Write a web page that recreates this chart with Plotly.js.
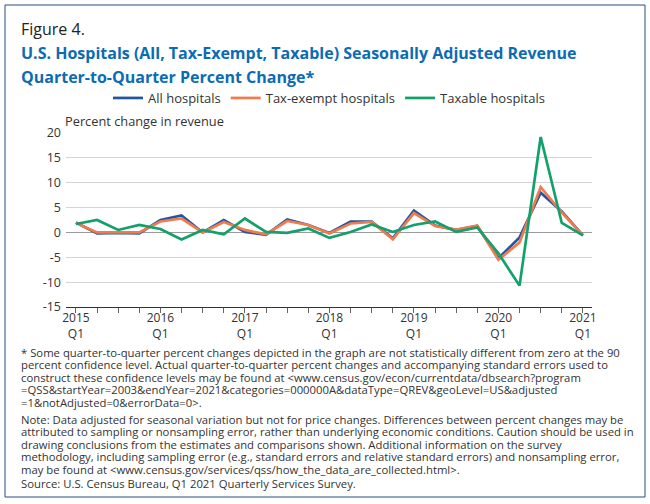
<!DOCTYPE html>
<html>
<head>
<meta charset="utf-8">
<script src="https://cdn.plot.ly/plotly-3.0.1.min.js"></script>
<style>
  html, body { margin: 0; padding: 0; background: #ffffff; }
  #chart { width: 650px; height: 504px; }
</style>
</head>
<body>
<div id="chart"></div>
<script>
// ---- Data ----
var quarters = [
  "2015 Q1","2015 Q2","2015 Q3","2015 Q4",
  "2016 Q1","2016 Q2","2016 Q3","2016 Q4",
  "2017 Q1","2017 Q2","2017 Q3","2017 Q4",
  "2018 Q1","2018 Q2","2018 Q3","2018 Q4",
  "2019 Q1","2019 Q2","2019 Q3","2019 Q4",
  "2020 Q1","2020 Q2","2020 Q3","2020 Q4",
  "2021 Q1"
];
var allHospitals = [2.0, -0.2, -0.1, -0.2, 2.5, 3.4, 0.0, 2.5, 0.1, -0.5, 2.6, 1.5, -0.1, 2.2, 2.2, -1.2, 4.4, 1.4, 0.5, 1.3, -5.2, -1.0, 8.0, 4.2, -0.6];
var taxExempt    = [1.9, 0.0, 0.0, 0.0, 2.2, 2.8, 0.0, 2.1, 0.5, -0.4, 2.3, 1.5, -0.2, 1.8, 2.1, -1.4, 3.9, 1.3, 0.5, 1.4, -5.5, -2.0, 9.1, 4.0, -0.6];
var taxable      = [1.7, 2.5, 0.5, 1.5, 0.7, -1.4, 0.5, -0.4, 2.8, 0.1, -0.1, 0.8, -1.1, 0.1, 1.6, 0.1, 1.5, 2.2, 0.1, 1.0, -4.2, -10.7, 19.2, 1.9, -0.6];
var seriesNames  = ["All hospitals", "Tax-exempt hospitals", "Taxable hospitals"];
var yTicks       = [-15, -10, -5, 0, 5, 10, 15, 20];

// x tick labels: "year<br>Q1" on first quarters, blank elsewhere
var xTickText = quarters.map(function (q) {
  var p = q.split(" ");
  return p[1] === "Q1" ? p[0] + "<br>" + p[1] : "";
});

var footnoteLines = [
  "* Some quarter-to-quarter percent changes depicted in the graph are not statistically different from zero at the 90",
  "percent confidence level. Actual quarter-to-quarter percent changes and accompanying standard errors used to",
  "construct these confidence levels may be found at &lt;www.census.gov/econ/currentdata/dbsearch?program",
  "=QSS&amp;startYear=2003&amp;endYear=2021&amp;categories=000000A&amp;dataType=QREV&amp;geoLevel=US&amp;adjusted",
  "=1&amp;notAdjusted=0&amp;errorData=0&gt;."
];
var noteLines = [
  "Note: Data adjusted for seasonal variation but not for price changes. Differences between percent changes may be",
  "attributed to sampling or nonsampling error, rather than underlying economic conditions. Caution should be used in",
  "drawing conclusions from the estimates and comparisons shown. Additional information on the survey",
  "methodology, including sampling error (e.g., standard errors and relative standard errors) and nonsampling error,",
  "may be found at &lt;www.census.gov/services/qss/how_the_data_are_collected.html&gt;."
];
var sourceLine = "Source: U.S. Census Bureau, Q1 2021 Quarterly Services Survey.";

// ---- Geometry helpers (pixel -> paper) ----
var W = 650, H = 504;
var M = { l: 66, r: 58, t: 133, b: 197 };
var PW = W - M.l - M.r, PH = H - M.t - M.b;
function px(x) { return (x - M.l) / PW; }
function py(y) { return (H - M.b - y) / PH; }

var FONT = "'Open Sans', Lato, sans-serif";
var TXT = "#333333";
var colors = ["#2356a0", "#f07b4f", "#14a06a"];

var traces = [allHospitals, taxExempt, taxable].map(function (vals, i) {
  return {
    type: "scatter",
    mode: "lines",
    x: quarters,
    y: vals,
    name: seriesNames[i],
    line: { color: colors[i], width: 2.7 },
    hoverinfo: "x+y+name"
  };
});

function textAnn(x, y, text, size, color) {
  return {
    xref: "paper", yref: "paper", x: px(x), y: py(y),
    xanchor: "left", yanchor: "middle", showarrow: false, align: "left",
    text: text,
    font: { family: FONT, size: size, color: color }
  };
}

var annotations = [
  textAnn(19, 29, "Figure 4.", 16, "#222222"),
  textAnn(19, 53, "<b>U.S. Hospitals (All, Tax-Exempt, Taxable) Seasonally Adjusted Revenue</b>", 16, "#0b6cb4"),
  textAnn(19, 77, "<b>Quarter-to-Quarter Percent Change*</b>", 16, "#0b6cb4"),
  textAnn(63, 121, "Percent change in revenue", 12.8, TXT)
];
var LS = 12.6, FS = 11.3;
footnoteLines.forEach(function (t, i) {
  annotations.push(textAnn(19, 352 + i * LS, t, FS, TXT));
});
noteLines.forEach(function (t, i) {
  annotations.push(textAnn(19, 419 + i * LS, t, FS, TXT));
});
annotations.push(textAnn(19, 483, sourceLine, FS, TXT));

var layout = {
  width: W, height: H,
  margin: M,
  paper_bgcolor: "#ffffff",
  plot_bgcolor: "#ffffff",
  font: { family: FONT, color: TXT, size: 12 },
  showlegend: true,
  legend: {
    orientation: "h",
    x: px(108), xanchor: "left",
    y: py(98), yanchor: "middle",
    font: { family: FONT, size: 13, color: TXT },
    itemwidth: 30,
    tracegroupgap: 0
  },
  xaxis: {
    type: "category",
    range: [-0.47, 24.43],
    tickmode: "array",
    tickvals: quarters,
    ticktext: xTickText,
    ticks: "outside",
    ticklen: 5,
    tickcolor: "#666666",
    ticklabelstandoff: -5,
    showgrid: false,
    showline: true,
    linecolor: "#333333",
    linewidth: 1,
    zeroline: false,
    tickfont: { family: FONT, size: 12, color: TXT },
    fixedrange: true
  },
  yaxis: {
    range: [-15, 20],
    tickmode: "array",
    tickvals: yTicks,
    ticktext: yTicks.map(String),
    ticks: "",
    ticklabelstandoff: 4,
    showgrid: true,
    gridcolor: "#d4d4d4",
    gridwidth: 1,
    zeroline: true,
    zerolinecolor: "#9a9a9a",
    zerolinewidth: 1.2,
    showline: false,
    tickfont: { family: FONT, size: 12.5, color: TXT },
    fixedrange: true
  },
  shapes: [
    {
      type: "rect", xref: "paper", yref: "paper",
      x0: px(5), x1: px(645), y0: py(5), y1: py(497),
      line: { color: "#2b4f7e", width: 1 },
      fillcolor: "rgba(0,0,0,0)",
      layer: "below"
    }
  ],
  annotations: annotations
};

Plotly.newPlot("chart", traces, layout, { displayModeBar: false, staticPlot: true });
</script>
</body>
</html>
